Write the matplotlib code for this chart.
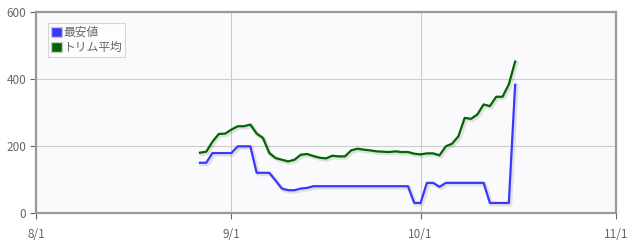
import matplotlib
matplotlib.use("Agg")
import matplotlib.pyplot as plt
import matplotlib.patheffects as pe
from matplotlib.patches import Patch
import pandas as pd

plt.rcParams['font.family'] = ['Noto Sans CJK JP', 'DejaVu Sans']

start_date = "2024-08-27"
lowest = [150, 150, 179, 179, 179, 179, 199, 199, 199, 120,
          120, 120, 97, 73, 68, 68, 73, 75, 80, 80,
          80, 80, 80, 80, 80, 80, 80, 80, 80, 80,
          80, 80, 80, 80, 30, 30, 90, 90, 78, 90,
          90, 90, 90, 90, 90, 90, 30, 30, 30, 30,
          383]
trimmed = [180, 183, 213, 236, 237, 249, 259, 259, 264, 237,
           224, 179, 164, 159, 154, 159, 174, 176, 170, 165,
           163, 171, 169, 169, 187, 192, 189, 187, 184, 183,
           182, 184, 182, 182, 177, 175, 178, 178, 172, 199,
           207, 229, 284, 281, 294, 324, 319, 347, 347, 384,
           452]
labels = ["最安値", "トリム平均"]
x_ticks = ["2024-08-01", "2024-09-01", "2024-10-01", "2024-11-01"]
x_tick_labels = ["8/1", "9/1", "10/1", "11/1"]
y_ticks = [0, 200, 400, 600]

dates = pd.date_range(start_date, periods=len(lowest), freq="D")
colors = ["#3838ff", "#006600"]

fig = plt.figure(figsize=(6.37, 2.42), dpi=100)
ax = fig.add_axes([36/637, 1-213/242, (616-36)/637, (213-12)/242])
ax.set_facecolor("#fafafd")

shadow = [pe.SimpleLineShadow(offset=(1.0, -1.0), shadow_color="#000000", alpha=0.1, linewidth=3), pe.Normal()]
for vals, c in zip([lowest, trimmed], colors):
    ax.plot(dates, vals, color=c, lw=1.6, path_effects=shadow, zorder=3)

xt = pd.to_datetime(x_ticks)
ax.set_xlim(xt[0], xt[-1])
ax.set_xticks(xt)
ax.set_xticklabels(x_tick_labels)
ax.set_ylim(0, 600)
ax.set_yticks(y_ticks)
ax.grid(True, color="#cccccc", lw=0.8)
ax.set_axisbelow(True)
for s in ax.spines.values():
    s.set_color("#999999")
    s.set_linewidth(1.6)
ax.tick_params(colors="#666666", labelsize=8.5, length=4, width=0.8)
ax.tick_params(axis="x", pad=7)
ax.tick_params(axis="y", pad=3)
for lab in ax.get_xticklabels() + ax.get_yticklabels():
    lab.set_color("#666666")

handles = [Patch(facecolor=c, edgecolor="#cccccc", lw=1) for c in colors]
leg = ax.legend(handles, labels, loc="upper left", bbox_to_anchor=(12/580, 1-11/201),
                fontsize=8.5, frameon=True, fancybox=False, handlelength=0.9, handleheight=0.9,
                handletextpad=0.15, borderpad=0.25, labelspacing=0.2, borderaxespad=0)
leg.get_frame().set_edgecolor("#cccccc")
leg.get_frame().set_facecolor("#ffffff")
leg.get_frame().set_linewidth(0.8)
for t in leg.get_texts():
    t.set_color("#666666")

fig.savefig("out.png", dpi=100)
